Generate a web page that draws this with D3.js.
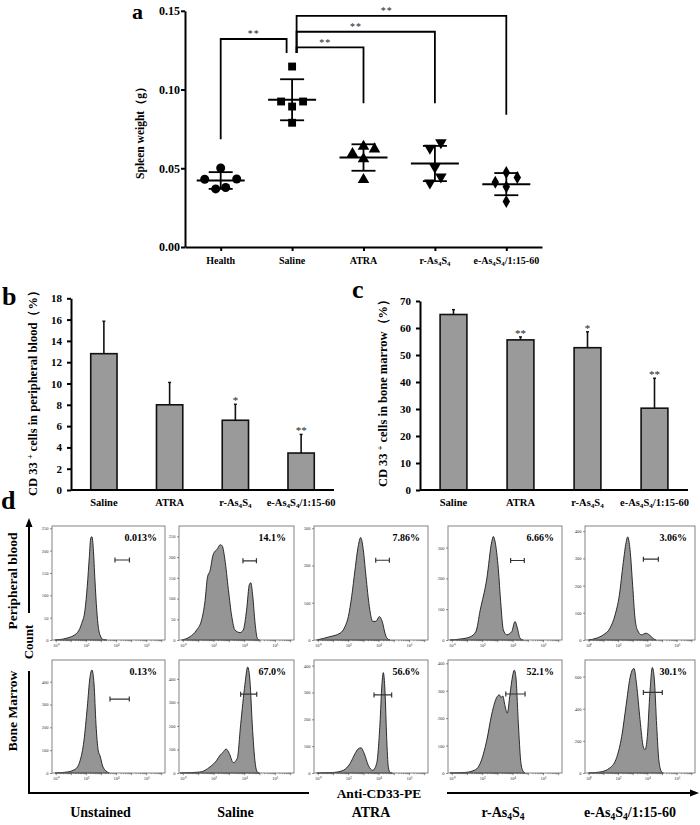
<!DOCTYPE html>
<html><head><meta charset="utf-8">
<script src="https://cdn.jsdelivr.net/npm/d3@7"></script>
<style>
body{margin:0;background:#fff}
svg{display:block}
text{font-family:"Liberation Serif","Times New Roman",serif}
</style>
</head><body>
<svg id="fig" width="700" height="825"></svg>
<script>
// ================= DATA =================
// Panel a: spleen weight (g)
const spleenGroups = ["Health","Saline","ATRA","r-As4S4","e-As4S4/1:15-60"];
const spleenHealth = [0.0430,0.0369,0.0502,0.0378,0.0432];
const spleenSaline = [0.0924,0.1146,0.0892,0.0789,0.0924];
const spleenATRA   = [0.0593,0.0639,0.0559,0.0428,0.0622];
const spleenRAs    = [0.0628,0.0407,0.0508,0.0663,0.0445];
const spleenEAs    = [0.0411,0.0473,0.0382,0.0289,0.0441];
const spleenYTicks = [0,0.05,0.10,0.15];
// comparisons: group1, group2, bracket level, leg end 1, leg end 2, label
const spleenComparisons = [
  ["Health","Saline",0.1321,0.0684,0.1232,"**"],
  ["Saline","ATRA",0.1268,0.1232,0.0913,"**"],
  ["Saline","r-As4S4",0.1367,0.1232,0.0913,"**"],
  ["Saline","e-As4S4/1:15-60",0.1468,0.1232,0.0840,"**"]
];

// Panels b, c: CD33+ cells (%)
const cd33Groups = ["Saline","ATRA","r-As4S4","e-As4S4/1:15-60"];
const pbMeans  = [12.8,8.0,6.55,3.47];
const pbErrors = [3.05,2.1,1.5,1.75];
const pbSig    = ["","","*","**"];
const pbYTicks = [0,2,4,6,8,10,12,14,16,18];
const bmMeans  = [65.0,55.6,52.7,30.3];
const bmErrors = [1.8,1.1,5.9,11.1];
const bmSig    = ["","**","*","**"];
const bmYTicks = [0,10,20,30,40,50,60,70];

// Panel d: flow cytometry histograms [log10(fluorescence), count]
const flowColumns = ["Unstained","Saline","ATRA","r-As4S4","e-As4S4/1:15-60"];
const flowDecadeTicks = [0,1,2,3,4,5,6,7];
const flowDecadeLabels = ["10⁰","","10²","","10⁴","","10⁶",""];
const pbPercent = ["0.013%","14.1%","7.86%","6.66%","3.06%"];
const bmPercent = ["0.13%","67.0%","56.6%","52.1%","30.1%"];
const pbYMax = [255,275,306,370,419];
const bmYMax = [495,480,421,412,703];
const pbFlowYTicks = [[0,50,100,150,200,250],[0,50,100,150,200,250],[0,100,200,300],[0,100,200,300],[0,100,200,300,400]];
const bmFlowYTicks = [[0,100,200,300,400],[0,100,200,300,400],[0,100,200,300,400],[0,100,200,300,400],[0,200,400,600]];
// gates: [low log10, high log10, count level]
const pbGates = [[3.93,4.89,179],[3.92,4.80,191],[3.81,4.71,214],[3.87,4.77,258],[3.73,4.75,297]];
const bmGates = [[3.60,4.88,324],[3.77,4.82,335],[3.70,4.86,291],[3.55,4.82,288],[3.73,5.02,501]];

const pbUnstained = [[-0.05,0],[0.72,4],[1.39,15],[1.72,37],[1.94,67],[2.09,120],[2.23,187],[2.32,228],[2.40,231],[2.49,205],[2.60,134],[2.72,67],[2.82,30],[2.94,11],[3.15,1],[3.38,0]];
const pbSaline = [[-0.07,0],[0.47,8],[0.90,24],[1.23,49],[1.45,95],[1.60,150],[1.78,168],[1.97,205],[2.25,220],[2.45,230],[2.58,226],[2.74,195],[2.97,122],[3.19,57],[3.40,24],[3.73,18],[3.94,24],[4.16,73],[4.34,134],[4.43,138],[4.56,106],[4.71,41],[4.86,4],[5.0,0]];
const pbATRA = [[-0.07,0],[0.80,9],[1.46,18],[1.79,36],[2.01,63],[2.23,117],[2.45,189],[2.66,252],[2.82,275],[2.99,243],[3.17,171],[3.39,90],[3.61,50],[3.83,50],[4.05,63],[4.27,45],[4.42,18],[4.57,4],[4.75,0]];
const pbRAs = [[-0.12,0],[0.54,3],[1.20,10],[1.59,28],[1.86,95],[2.30,198],[2.63,319],[2.73,336],[2.85,318],[3.06,231],[3.22,121],[3.39,33],[3.61,17],[3.94,27],[4.16,60],[4.31,39],[4.49,6],[4.70,0]];
const pbEAs = [[-0.02,0],[0.55,7],[1.00,19],[1.45,43],[1.80,92],[2.09,164],[2.36,285],[2.55,358],[2.66,379],[2.82,333],[3.00,200],[3.16,80],[3.32,37],[3.61,19],[3.91,25],[4.13,19],[4.41,5],[4.60,0]];
const bmUnstained = [[-0.05,0],[0.72,4],[1.28,16],[1.61,53],[1.87,141],[2.09,287],[2.27,419],[2.40,451],[2.54,390],[2.67,214],[2.82,97],[2.94,75],[3.11,31],[3.33,9],[3.55,0]];
const bmSaline = [[-0.18,0],[1.12,4],[1.77,26],[2.21,54],[2.42,75],[2.60,86],[2.82,102],[3.03,83],[3.29,44],[3.55,62],[3.77,205],[4.05,376],[4.23,450],[4.38,390],[4.53,204],[4.71,47],[4.86,4],[5.0,0]];
const bmATRA = [[-0.07,0],[1.02,2],[1.68,10],[2.12,35],[2.45,72],[2.66,90],[2.84,94],[3.06,72],[3.32,29],[3.61,10],[3.87,35],[4.09,183],[4.22,331],[4.31,374],[4.42,306],[4.53,133],[4.64,22],[4.75,2],[4.90,0]];
const bmRAs = [[-0.12,0],[0.87,2],[1.39,8],[1.72,20],[1.86,34],[2.30,119],[2.63,215],[2.95,275],[3.13,285],[3.24,275],[3.35,281],[3.50,245],[3.65,218],[3.83,288],[4.00,354],[4.11,375],[4.22,348],[4.38,179],[4.53,46],[4.66,10],[4.82,0]];
const bmEAs = [[-0.02,0],[0.77,6],[1.45,32],[1.91,97],[2.25,226],[2.55,419],[2.82,592],[3.00,645],[3.09,650],[3.27,548],[3.50,334],[3.73,161],[3.84,145],[4.00,226],[4.18,506],[4.34,656],[4.47,592],[4.64,290],[4.79,75],[4.98,6],[5.10,0]];

const pbHists = [pbUnstained,pbSaline,pbATRA,pbRAs,pbEAs];
const bmHists = [bmUnstained,bmSaline,bmATRA,bmRAs,bmEAs];

// ================= DRAWING =================
const svg = d3.select("#fig");

function rich(t, label, size){
  const parts = label.split(/(?<=As|S)4/);
  let down = 0;
  parts.forEach((p,i)=>{
    if(i>0){ t.append("tspan").attr("font-size", size*0.68).attr("dy", size*0.22).text("4"); down = size*0.22; }
    if(p){ const s=t.append("tspan").text(p); if(down) s.attr("dy",-down); down=0; }
  });
}
function panelLabel(txt,x,y,size){
  svg.append("text").attr("x",x).attr("y",y).attr("font-size",size||26).attr("font-weight","bold").text(txt);
}
function styleAxis(g,size){
  g.selectAll("path,line").attr("stroke","#000");
  g.selectAll("text").attr("font-size",size).attr("font-weight","bold").attr("fill","#000")
   .style("font-family",'"Liberation Serif","Times New Roman",serif');
}

// ---------- Panel a ----------
(function(){
  const xA = d3.scalePoint().domain(spleenGroups).range([185,542]).padding(0.5);
  const yA = d3.scaleLinear().domain([0,0.15]).range([247,10.8]);
  const g = svg.append("g");
  const ya = g.append("g").attr("transform","translate(185,0)")
    .call(d3.axisLeft(yA).tickValues(spleenYTicks).tickFormat(d3.format(".2f")).tickSize(4).tickPadding(1).tickSizeOuter(0));
  styleAxis(ya,12); ya.selectAll("path,line").attr("stroke-width",2);
  const xa = g.append("g").attr("transform","translate(0,247)")
    .call(d3.axisBottom(xA).tickSize(4).tickSizeOuter(0).tickFormat(""));
  styleAxis(xa,10); xa.selectAll("path,line").attr("stroke-width",2);
  spleenGroups.forEach(s=>{
    const t=g.append("text").attr("x",xA(s)).attr("y",264).attr("text-anchor","middle")
      .attr("font-size",10).attr("font-weight","bold");
    rich(t,s,10);
  });
  g.append("text").attr("transform","translate(144,130) rotate(-90)").attr("text-anchor","middle")
    .attr("font-size",11.5).attr("font-weight","bold").text("Spleen weight（g）");

  const series = [spleenHealth,spleenSaline,spleenATRA,spleenRAs,spleenEAs];
  const jitter = [[-16,-5,0,5,16],[-11,0,0,0,11],[-11,0,0,0,11],[-5,-5,0,6,6],[-11,0,0,0,11]];
  const symbols = [d3.symbolCircle,d3.symbolSquare,d3.symbolTriangle,d3.symbolTriangle,d3.symbolDiamond];
  const sizes = [64,62,58,58,48];
  const rot = [0,0,0,180,0];
  series.forEach((vals,i)=>{
    const cx = xA(spleenGroups[i]);
    const m = d3.mean(vals), sd = d3.deviation(vals);
    g.append("line").attr("x1",cx-24).attr("x2",cx+24).attr("y1",yA(m)).attr("y2",yA(m)).attr("stroke","#000").attr("stroke-width",2);
    g.append("line").attr("x1",cx).attr("x2",cx).attr("y1",yA(m-sd)).attr("y2",yA(m+sd)).attr("stroke","#000").attr("stroke-width",1.8);
    [m-sd,m+sd].forEach(v=>g.append("line").attr("x1",cx-12).attr("x2",cx+12).attr("y1",yA(v)).attr("y2",yA(v)).attr("stroke","#000").attr("stroke-width",1.8));
    vals.forEach((v,j)=>{
      g.append("path").attr("d",d3.symbol().type(symbols[i]).size(sizes[i])())
        .attr("transform",`translate(${cx+jitter[i][j]},${yA(v)}) rotate(${rot[i]})`).attr("fill","#000");
    });
  });
  spleenComparisons.forEach(([g1,g2,lev,e1,e2,lab])=>{
    const x1 = xA(g1) + (g1==="Saline"?4.5:0);
    const x2 = xA(g2) + (g2==="Saline"?-5.5:0);
    g.append("path").attr("d",`M${x1},${yA(e1)}V${yA(lev)}H${x2}V${yA(e2)}`)
      .attr("fill","none").attr("stroke","#000").attr("stroke-width",1.8);
    const frac = g1==="Health"?0.5:0.43;
    g.append("text").attr("x",x1+(x2-x1)*frac).attr("y",yA(lev)-1.5).attr("text-anchor","middle")
      .attr("font-size",10).attr("fill","#222").attr("letter-spacing",1).text(lab);
  });
  panelLabel("a",132,19,22);
})();

// ---------- Panels b and c ----------
function barPanel(range, yTop, ymax, ticks, means, errs, sig, ylabelRest, ylabX){
  const x = d3.scaleBand().domain(cd33Groups).range(range).paddingInner(0.6).paddingOuter(0.3);
  const y = d3.scaleLinear().domain([0,ymax]).range([490,yTop]);
  const g = svg.append("g");
  cd33Groups.forEach((c,i)=>{
    g.append("rect").attr("x",x(c)).attr("width",x.bandwidth()).attr("y",y(means[i])).attr("height",y(0)-y(means[i]))
      .attr("fill","#9a9a9a").attr("stroke","#111").attr("stroke-width",1.6);
    const cx = x(c)+x.bandwidth()/2;
    const top = y(means[i]+errs[i]);
    g.append("line").attr("x1",cx).attr("x2",cx).attr("y1",y(means[i])).attr("y2",top).attr("stroke","#111").attr("stroke-width",1.6);
    g.append("line").attr("x1",cx-1.5).attr("x2",cx+1.5).attr("y1",top).attr("y2",top).attr("stroke","#111").attr("stroke-width",1.4);
    if(sig[i]) g.append("text").attr("x",cx).attr("y",top).attr("text-anchor","middle").attr("font-size",11).attr("fill","#222").text(sig[i]);
    const t=g.append("text").attr("x",cx).attr("y",506).attr("text-anchor","middle").attr("font-size",10.5).attr("font-weight","bold");
    rich(t,c,10.5);
  });
  const ya = g.append("g").attr("transform",`translate(${range[0]},0)`)
    .call(d3.axisLeft(y).tickValues(ticks).tickSize(4).tickPadding(5).tickSizeOuter(0));
  styleAxis(ya,11); ya.selectAll("path,line").attr("stroke-width",2);
  g.append("line").attr("x1",range[0]).attr("x2",range[1]).attr("y1",490).attr("y2",490).attr("stroke","#000").attr("stroke-width",2);
  const t = g.append("text").attr("transform",`translate(${ylabX},390) rotate(-90)`).attr("text-anchor","middle")
    .attr("font-size",12.5).attr("font-weight","bold");
  t.append("tspan").text("CD 33 ");
  t.append("tspan").attr("font-size",8).attr("dy",-4).text("+");
  t.append("tspan").attr("dy",4).text(" cells in "+ylabelRest+"（%）");
}
barPanel([71,334],298.3,18,pbYTicks,pbMeans,pbErrors,pbSig,"peripheral blood",37);
barPanel([420,688],301,70,bmYTicks,bmMeans,bmErrors,bmSig,"bone marrow",387);
panelLabel("b",2,305);
panelLabel("c",352,298);

// ---------- Panel d ----------
const flowBoxesX = [[52,165],[179,294],[314,428],[448,562],[585,695]];
const flowRowsY = [[526,640],[660,773]];
function drawFlow(ci,ri,hist,ymax,yticks,gate,pct){
  const [x0,x1]=flowBoxesX[ci], [y0,y1]=flowRowsY[ri];
  const x=d3.scaleLinear().domain([-0.25,7.25]).range([x0,x1]);
  const y=d3.scaleLinear().domain([0,ymax]).range([y1,y0]);
  const g=svg.append("g");
  const area=d3.area().x(d=>x(d[0])).y0(y(0)).y1(d=>y(d[1])).curve(d3.curveMonotoneX);
  g.append("path").datum(hist).attr("d",area).attr("fill","#959595").attr("stroke","#1a1a1a").attr("stroke-width",0.9);
  g.append("rect").attr("x",x0).attr("y",y0).attr("width",x1-x0).attr("height",y1-y0)
    .attr("fill","none").attr("stroke","#777").attr("stroke-width",0.9);
  const ya=g.append("g").attr("transform",`translate(${x0},0)`)
    .call(d3.axisLeft(y).tickValues(yticks).tickSize(2).tickPadding(1.5));
  ya.select(".domain").remove();
  ya.selectAll("line").attr("stroke","#444").attr("stroke-width",0.6);
  ya.selectAll("text").attr("font-size",4.5).attr("fill","#333").style("font-family",'"Liberation Serif",serif');
  const xa=g.append("g").attr("transform",`translate(0,${y1})`)
    .call(d3.axisBottom(x).tickValues(flowDecadeTicks).tickFormat((d,i)=>flowDecadeLabels[i]).tickSize(2.2).tickPadding(2));
  xa.select(".domain").remove();
  xa.selectAll("line").attr("stroke","#444").attr("stroke-width",0.6);
  xa.selectAll("text").attr("font-size",4.5).attr("fill","#333").style("font-family",'"Liberation Serif",serif');
  const minor=[];
  flowDecadeTicks.forEach(dd=>{for(let k=2;k<10;k++){const v=dd+Math.log10(k); if(v<7.25) minor.push(v);}});
  const xm=g.append("g").attr("transform",`translate(0,${y1})`)
    .call(d3.axisBottom(x).tickValues(minor).tickFormat("").tickSize(1.2));
  xm.select(".domain").remove();
  xm.selectAll("line").attr("stroke","#444").attr("stroke-width",0.5);
  const gy=y(gate[2]);
  g.append("path").attr("d",`M${x(gate[0])},${gy-2.5}V${gy+2.5}M${x(gate[0])},${gy}H${x(gate[1])}M${x(gate[1])},${gy-2.5}V${gy+2.5}`)
    .attr("stroke","#333").attr("stroke-width",1.2).attr("fill","none");
  g.append("text").attr("x",x1-8).attr("y",y0+15).attr("text-anchor","end").attr("font-size",10).attr("font-weight","bold").text(pct);
}
flowColumns.forEach((c,i)=>{
  drawFlow(i,0,pbHists[i],pbYMax[i],pbFlowYTicks[i],pbGates[i],pbPercent[i]);
  drawFlow(i,1,bmHists[i],bmYMax[i],bmFlowYTicks[i],bmGates[i],bmPercent[i]);
  const cx=(flowBoxesX[i][0]+flowBoxesX[i][1])/2;
  const t=svg.append("text").attr("x",cx+ [-8,-1,0,-2,-10][i]).attr("y",817).attr("text-anchor","middle").attr("font-size",14).attr("font-weight","bold");
  rich(t,c,14);
});
// axes arrows
const ax=svg.append("g").attr("stroke","#000").attr("stroke-width",2).attr("fill","none");
ax.append("path").attr("d","M29,526V613M29,671V793H309M447,793H692");
svg.append("path").attr("d","M29,518L25.5,527L32.5,527Z").attr("fill","#000");
svg.append("path").attr("d","M699,793L690,789.5L690,796.5Z").attr("fill","#000");
svg.append("text").attr("transform","translate(33,642) rotate(-90)").attr("text-anchor","middle").attr("font-size",13).attr("font-weight","bold").text("Count");
svg.append("text").attr("transform","translate(17,581) rotate(-90)").attr("text-anchor","middle").attr("font-size",13.5).attr("font-weight","bold").text("Peripheral blood");
svg.append("text").attr("transform","translate(17,711) rotate(-90)").attr("text-anchor","middle").attr("font-size",13.5).attr("font-weight","bold").text("Bone Marrow");
svg.append("text").attr("x",379).attr("y",798).attr("text-anchor","middle").attr("font-size",13.5).attr("font-weight","bold").text("Anti-CD33-PE");
panelLabel("d",1,509);
</script>
</body></html>
